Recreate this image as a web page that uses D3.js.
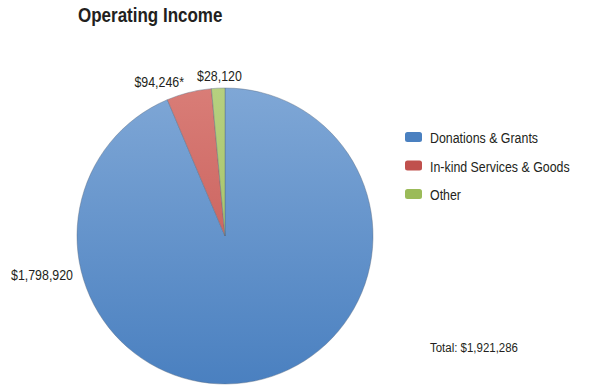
<!DOCTYPE html>
<html>
<head>
<meta charset="utf-8">
<script src="https://cdn.jsdelivr.net/npm/d3@7"></script>
<style>
  body { margin: 0; background: #fff; }
  text { font-family: "Liberation Sans", Arial, sans-serif; fill: #231f20; }
</style>
</head>
<body>
<div id="chart"></div>
<script>
var svgWidth = 593;
var svgHeight = 388;

// data
var categories = ["Donations & Grants", "In-kind Services & Goods", "Other"];
var values = [1798920, 94246, 28120];
var valueLabels = ["$1,798,920", "$94,246*", "$28,120"];
var totalLabel = "Total: $1,921,286";
var colorsTop = ["#7fa7d6", "#d97d77", "#b6d07f"];
var colorsBottom = ["#4a80c0", "#c0504d", "#9bbb59"];

var cx = 225, cy = 236, radius = 148;
// condensed look: squeeze text horizontally
var squeeze = 0.855;

var svg = d3.select("#chart").append("svg")
  .attr("width", svgWidth)
  .attr("height", svgHeight);

function addText(sel, x, y, sx) {
  return sel.append("text")
    .attr("transform", `translate(${x}, ${y}) scale(${sx}, 1)`);
}

var defs = svg.append("defs");
categories.forEach(function(c, i) {
  var g = defs.append("linearGradient")
    .attr("id", "grad" + i)
    .attr("gradientUnits", "userSpaceOnUse")
    .attr("x1", 0).attr("x2", 0)
    .attr("y1", -radius).attr("y2", radius);
  g.append("stop").attr("offset", "0%").attr("stop-color", colorsTop[i]);
  g.append("stop").attr("offset", "100%").attr("stop-color", colorsBottom[i]);
});

// title
addText(svg, 78, 22, 0.85)
  .attr("font-size", "20px")
  .attr("font-weight", "bold")
  .text("Operating Income");

var pie = d3.pie().sort(null).value(d => d);
var arcs = pie(values);

var arc = d3.arc().innerRadius(0).outerRadius(radius);

var chartGroup = svg.append("g")
  .attr("transform", `translate(${cx}, ${cy})`);

chartGroup.selectAll("path")
  .data(arcs)
  .enter()
  .append("path")
  .attr("d", arc)
  .attr("fill", (d, i) => `url(#grad${i})`)
  .attr("stroke", "#5a6b80")
  .attr("stroke-opacity", 0.6)
  .attr("stroke-width", 0.7);

// value labels
var outer = d3.arc().innerRadius(radius + 6).outerRadius(radius + 6);
arcs.forEach(function(d, i) {
  var c = outer.centroid(d);
  var x, y, anchor;
  if (i == 0) { x = -radius - 4; y = 44; anchor = "end"; }
  else if (i == 1) { x = c[0] - 3.5; y = c[1]; anchor = "end"; }
  else { x = c[0] + 1.5; y = c[1] - 1; anchor = "middle"; }
  addText(chartGroup, x, y, 0.8)
    .attr("font-size", "15.5px")
    .attr("text-anchor", anchor)
    .text(valueLabels[i]);
});

// legend
var legend = svg.append("g")
  .attr("transform", "translate(405, 132)");

var item = legend.selectAll("g")
  .data(categories)
  .enter()
  .append("g")
  .attr("transform", (d, i) => `translate(0, ${i * 28.5})`);

item.append("rect")
  .attr("width", 17)
  .attr("height", 10)
  .attr("rx", 2.5)
  .attr("fill", (d, i) => colorsBottom[i]);

item.each(function(d) {
  addText(d3.select(this), 25, 11, squeeze)
    .attr("font-size", "14.5px")
    .text(d);
});

addText(svg, 430, 352, 0.85)
  .attr("font-size", "13.5px")
  .text(totalLabel);
</script>
</body>
</html>
